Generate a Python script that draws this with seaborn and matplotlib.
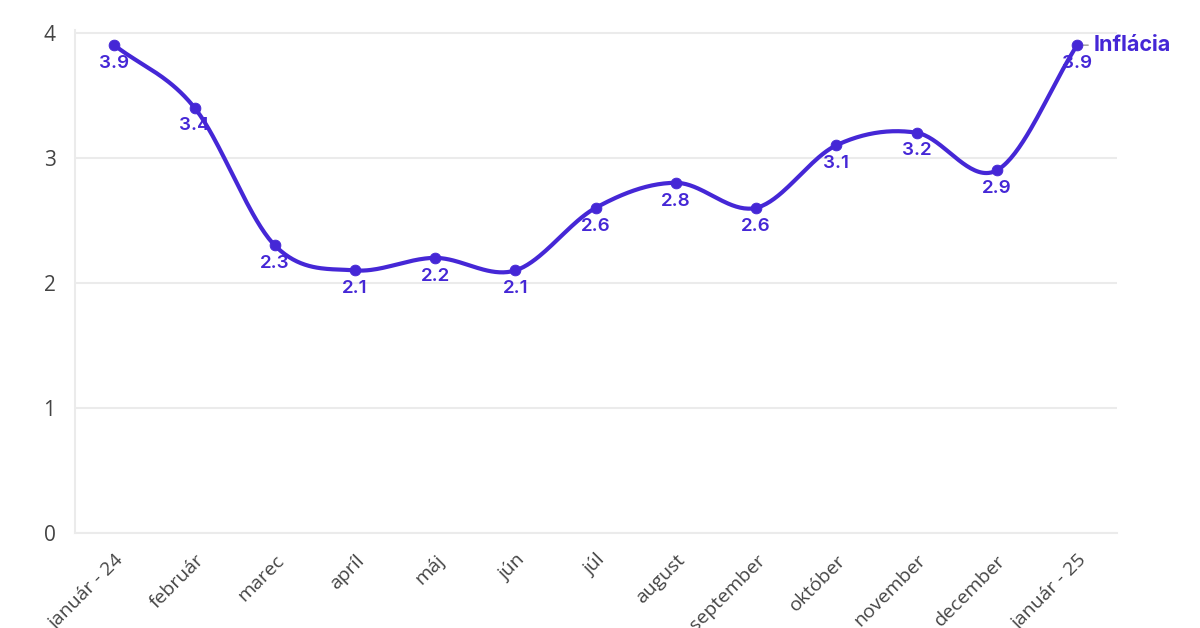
import numpy as np
import pandas as pd
import matplotlib
matplotlib.use("Agg")
import matplotlib.pyplot as plt
import seaborn as sns

months = ["január - 24", "február", "marec", "apríl", "máj", "jún", "júl",
          "august", "september", "október", "november", "december", "január - 25"]
inflation = [3.9, 3.4, 2.3, 2.1, 2.2, 2.1, 2.6, 2.8, 2.6, 3.1, 3.2, 2.9, 3.9]
series_name = "Inflácia"
y_ticks = [0, 1, 2, 3, 4]

LINE = "#4527D6"
GRID = "#ebebeb"
TXT = "#444444"

sns.set_theme(style="white")
plt.rcParams["font.family"] = ["Inter", "DejaVu Sans"]

df = pd.DataFrame({"pos": np.arange(len(months)), "value": inflation})

# Catmull-Rom smoothing for the line rendering
def catmull_rom(x, y, n=40):
    x = np.asarray(x, float); y = np.asarray(y, float)
    px = np.concatenate([[2 * x[0] - x[1]], x, [2 * x[-1] - x[-2]]])
    py = np.concatenate([[2 * y[0] - y[1]], y, [2 * y[-1] - y[-2]]])
    xs, ys = [], []
    for i in range(1, len(px) - 2):
        t = np.linspace(0, 1, n, endpoint=False)
        for p, out in ((px, xs), (py, ys)):
            p0, p1, p2, p3 = p[i - 1], p[i], p[i + 1], p[i + 2]
            out.append(0.5 * ((2 * p1) + (-p0 + p2) * t +
                              (2 * p0 - 5 * p1 + 4 * p2 - p3) * t ** 2 +
                              (-p0 + 3 * p1 - 3 * p2 + p3) * t ** 3))
    xs = np.concatenate(xs + [[x[-1]]]); ys = np.concatenate(ys + [[y[-1]]])
    return xs, ys

sx, sy = catmull_rom(df["pos"], df["value"])
smooth = pd.DataFrame({"pos": sx, "value": sy})

fig = plt.figure(figsize=(12, 6.28), dpi=100)
ax = fig.add_axes([0.0625, 0.151, 0.8685, 0.801])

sns.lineplot(data=smooth, x="pos", y="value", ax=ax, color=LINE, linewidth=3, zorder=3)
sns.scatterplot(data=df, x="pos", y="value", ax=ax, color=LINE, s=60, edgecolor=LINE, zorder=4)

for xp, v in zip(df["pos"], df["value"]):
    ax.annotate(f"{v}", (xp, v), xytext=(0, -7), textcoords="offset points",
                ha="center", va="top", fontsize=13.5, fontweight="semibold", color=LINE, zorder=5)

# series label at the end
last_x, last_y = df["pos"].iloc[-1], df["value"].iloc[-1]
ax.annotate("", xy=(last_x, last_y), xytext=(10, 0), textcoords="offset points",
            arrowprops=dict(arrowstyle="-", color="#999999", lw=1), zorder=2)
ax.annotate(series_name, (last_x, last_y), xytext=(12, 0), textcoords="offset points",
            ha="left", va="center", fontsize=15.5, fontweight="bold", color=LINE,
            annotation_clip=False)

ax.set_xlim(-0.49, 12.5)
ax.set_ylim(0, 4.02)
ax.set_yticks(y_ticks)
ax.set_yticklabels([str(t) for t in y_ticks], fontsize=15, color=TXT, family=["Open Sans", "DejaVu Sans"])
ax.set_xticks(df["pos"])
ax.set_xticklabels(months, rotation=45, ha="right", rotation_mode="anchor",
                   fontsize=14, color=TXT, family=["Open Sans", "DejaVu Sans"])
ax.set_xlabel(""); ax.set_ylabel("")

ax.yaxis.grid(True, color=GRID, linewidth=1.5)
ax.xaxis.grid(False)
for s in ["top", "right"]:
    ax.spines[s].set_visible(False)
for s in ["left", "bottom"]:
    ax.spines[s].set_color(GRID)
    ax.spines[s].set_linewidth(1.5)
ax.tick_params(axis="x", length=8, width=1.5, color=GRID, pad=5)
ax.tick_params(axis="y", length=8, width=1.5, color=GRID, pad=6)

fig.savefig("out.png", dpi=100)
